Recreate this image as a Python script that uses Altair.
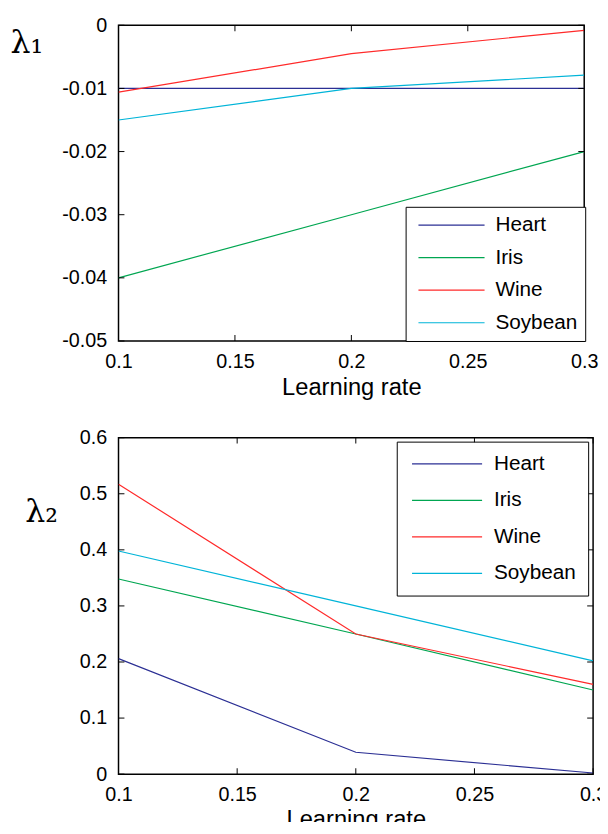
import altair as alt
import pandas as pd

# ---- data ----
x_rates = [0.1, 0.2, 0.3]
datasets = ["Heart", "Iris", "Wine", "Soybean"]
colors = ["#2b2f94", "#00a651", "#ff2a2a", "#00b4d8"]

l1_heart = [-0.01, -0.01, -0.01]
l1_iris = [-0.04, -0.03, -0.02]
l1_wine = [-0.0106, -0.0045, -0.0008]
l1_soybean = [-0.015, -0.01, -0.0079]

l2_heart = [0.206, 0.039, 0.002]
l2_iris = [0.348, 0.25, 0.15]
l2_wine = [0.517, 0.25, 0.16]
l2_soybean = [0.398, 0.30, 0.202]

x_ticks = [0.1, 0.15, 0.2, 0.25, 0.3]
y1_ticks = [0, -0.01, -0.02, -0.03, -0.04, -0.05]
y2_ticks = [0, 0.1, 0.2, 0.3, 0.4, 0.5, 0.6]

FONT = "Liberation Sans"


def make_df(series):
    rows = []
    for name, vals in zip(datasets, series):
        for r, v in zip(x_rates, vals):
            rows.append({"rate": r, "value": v, "dataset": name})
    return pd.DataFrame(rows)


def panel(series, y_ticks, ydom, W, H, ytitle, tx, ty, leg, xtpad):
    df = make_df(series)
    xs = alt.Scale(domain=[0.1, 0.3], nice=False, zero=False)
    ys = alt.Scale(domain=ydom, nice=False, zero=False)
    xaxis = alt.Axis(values=x_ticks, format="~g", title="Learning rate",
                     labelPadding=11, titlePadding=xtpad, labelFlush=False)
    yaxis = alt.Axis(values=y_ticks,
                     labelExpr="replace(format(datum.value, '~g'), '\u2212', '-')",
                     title=ytitle, titleAngle=0, titleX=tx, titleY=ty,
                     titleAlign="left", titleBaseline="middle",
                     titleFont="DejaVu Serif", titleFontSize=32,
                     labelPadding=12, labelFlush=False)
    lines = alt.Chart(df).mark_line(strokeWidth=1.2, clip=True).encode(
        x=alt.X("rate:Q", scale=xs, axis=xaxis),
        y=alt.Y("value:Q", scale=ys, axis=yaxis),
        color=alt.Color("dataset:N", sort=datasets,
                        scale=alt.Scale(domain=datasets, range=colors),
                        legend=alt.Legend(**leg)),
    )
    xt = pd.DataFrame({"rate": x_ticks})
    yt = pd.DataFrame({"value": y_ticks})
    tick_style = dict(color="black", size=6, thickness=1, opacity=1)
    tx_bot = alt.Chart(xt).mark_tick(orient="vertical", **tick_style).encode(
        x=alt.X("rate:Q", scale=xs, axis=xaxis), y=alt.value(H - 3))
    tx_top = alt.Chart(xt).mark_tick(orient="vertical", **tick_style).encode(
        x=alt.X("rate:Q", scale=xs, axis=xaxis), y=alt.value(3))
    ty_left = alt.Chart(yt).mark_tick(orient="horizontal", **tick_style).encode(
        y=alt.Y("value:Q", scale=ys, axis=yaxis), x=alt.value(3))
    ty_right = alt.Chart(yt).mark_tick(orient="horizontal", **tick_style).encode(
        y=alt.Y("value:Q", scale=ys, axis=yaxis), x=alt.value(W - 3))
    return alt.layer(lines, tx_bot, tx_top, ty_left, ty_right).properties(width=W, height=H)


common_leg = dict(title=None, orient="none", symbolType="stroke",
                  symbolStrokeWidth=1.2, labelFont=FONT, labelFontSize=21,
                  labelColor="black", strokeColor="black", fillColor="white",
                  clipHeight=21)

leg1 = dict(common_leg, legendX=291, legendY=184, symbolSize=67 * 67,
            padding=8, symbolOffset=4, labelOffset=10, rowPadding=11)
leg2 = dict(common_leg, legendX=282, legendY=4, symbolSize=71 * 71,
            padding=12, symbolOffset=2.5, labelOffset=11, rowPadding=15)

top = panel([l1_heart, l1_iris, l1_wine, l1_soybean], y1_ticks, [-0.05, 0],
            472, 320, "λ₁", -110, 18, leg1, 4)
bottom = panel([l2_heart, l2_iris, l2_wine, l2_soybean], y2_ticks, [0, 0.6],
               481, 341, "λ₂", -95, 75, leg2, 3)

chart = alt.vconcat(top, bottom, spacing=27).resolve_scale(
    color="independent").resolve_legend(color="independent").properties(
    autosize=alt.AutoSizeParams(type="none"),
    padding={"left": 112, "top": 12, "right": 488, "bottom": 802},
).configure_view(stroke="black", strokeWidth=1.5).configure_axis(
    labelFont=FONT, labelFontSize=20, titleFont=FONT, titleFontSize=24,
    titleFontWeight="normal", labelColor="black", titleColor="black",
    domain=False, ticks=False, tickSize=0, grid=False,
)

chart.save("out.html", embed_options={"renderer": "svg", "actions": False})
